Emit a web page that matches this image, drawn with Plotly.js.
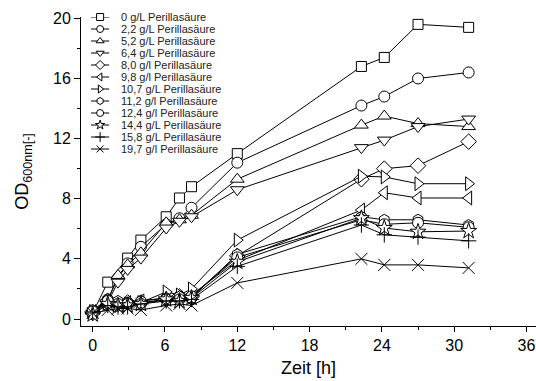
<!DOCTYPE html>
<html>
<head>
<meta charset="utf-8">
<script src="https://cdn.plot.ly/plotly-3.0.1.min.js"></script>
<style>html,body{margin:0;padding:0;background:#fff;}#chart{width:536px;height:381px;}</style>
</head>
<body>
<div id="chart"></div>
<script>
// Time points [h]
const time = [0, 1.25, 2.1, 2.9, 4.0, 6.1, 7.2, 8.2, 12, 22.3, 24.2, 27, 31.2];

// Legend labels
const labels = [
  "0 g/L Perillasäure", "2,2 g/L Perillasäure", "5,2 g/L Perillasäure",
  "6,4 g/L Perillasäure", "8,0 g/l Perillasäure", "9,8 g/l Perillasäure",
  "10,7 g/L Perillasäure", "11,2 g/l Perillasäure", "12,4 g/l Perillasäure",
  "14,4 g/L Perillasäure", "15,8 g/L Perillasäure", "19,7 g/l Perillasäure"
];

// OD600 values per series
const od_0_0  = [0.4, 2.45, null, 4.05, 5.25, 6.8, 8.05, 8.8, 11.0, 16.8, 17.4, 19.6, 19.4];
const od_2_2  = [0.5, 1.3, 2.7, 3.7, 4.8, 6.3, 6.7, 7.4, 10.4, 14.2, 14.8, 16.0, 16.4];
const od_5_2  = [0.5, 1.2, 2.9, 3.6, 4.4, 6.4, 6.6, 6.9, 9.3, 12.9, 13.5, 13.0, 12.8];
const od_6_4  = [0.4, 1.1, 2.45, 3.3, 4.05, 6.05, 6.5, 6.8, 8.6, 11.4, 11.9, 12.8, 13.3];
const od_8_0  = [0.4, 1.2, 1.0, 1.1, 1.1, 1.3, 1.5, 1.5, 4.2, 9.3, 10.0, 10.2, 11.8];
const od_9_8  = [0.5, 1.1, 1.0, 1.1, 1.2, 1.4, 1.4, 1.6, 3.9, 7.25, 8.4, 8.05, 8.05];
const od_10_7 = [0.5, 1.0, 0.9, 1.0, 1.1, 1.8, 1.6, 2.0, 5.25, 9.5, 9.45, 9.0, 9.0];
const od_11_2 = [0.6, 1.3, 1.2, 1.1, 1.2, 1.4, 1.5, 1.4, 4.3, 6.8, 6.6, 6.6, 6.25];
const od_12_4 = [0.5, 1.2, 1.0, 1.0, 1.0, 1.3, 1.3, 1.5, 4.1, 6.6, 6.3, 6.4, 6.1];
const od_14_4 = [0.3, 1.0, 0.9, 0.9, 1.0, 1.3, 1.2, 1.4, 3.8, 6.7, 6.05, 5.8, 5.85];
const od_15_8 = [0.4, 0.9, 0.8, 0.8, 1.0, 1.2, 1.2, 1.3, 3.5, 6.25, 5.6, 5.45, 5.2];
const od_19_7 = [0.4, 0.6, 0.7, 0.7, 0.6, 0.9, 1.0, 0.9, 2.4, 4.0, 3.6, 3.6, 3.4];

const series = [od_0_0, od_2_2, od_5_2, od_6_4, od_8_0, od_9_8, od_10_7, od_11_2, od_12_4, od_14_4, od_15_8, od_19_7];

const symbols = ["square", "circle", "triangle-up", "triangle-down", "diamond", "triangle-left",
  "triangle-right", "hexagon", "circle", "star", "cross-thin", "x-thin"];
const sizes = [10, 11, 12, 12, 12, 12, 12, 11, 11, 12, 11, 12];

const traces = [];
series.forEach((ys, i) => {
  traces.push({
    x: time, y: ys, type: "scatter", mode: "lines+markers",
    name: labels[i], connectgaps: true, cliponaxis: false, showlegend: false,
    line: {color: "#000", width: 1},
    marker: {symbol: symbols[i], size: sizes[i], color: "#fff",
             line: {color: "#000", width: 1}}
  });
});

// Hand-built compact legend on an overlay axis (0..1 over the plot area)
const lgX0 = 0.022, lgX1 = 0.062, lgXm = 0.042, lgTxt = 0.084;
const lgStep = 12 / 309;
const lgLineX = [], lgLineY = [], lgMX = [], lgMY = [];
labels.forEach((lab, i) => {
  const yy = 1 - i * lgStep;
  lgLineX.push(lgX0, lgX1, null); lgLineY.push(yy, yy, null);
  lgMX.push(lgXm); lgMY.push(yy);
});
traces.push({x: lgLineX, y: lgLineY, xaxis: "x2", yaxis: "y2", type: "scatter", mode: "lines",
  showlegend: false, hoverinfo: "skip", cliponaxis: false, line: {color: "#000", width: 1}});
traces.push({x: lgMX, y: lgMY, xaxis: "x2", yaxis: "y2", type: "scatter", mode: "markers",
  showlegend: false, hoverinfo: "skip", cliponaxis: false,
  marker: {symbol: symbols, size: 7, color: "#fff", line: {color: "#000", width: 1}}});

const annotations = labels.map((lab, i) => ({
  xref: "x2", yref: "y2", x: lgTxt, y: 1 - i * lgStep, text: lab, showarrow: false,
  xanchor: "left", yanchor: "middle", font: {family: "Liberation Sans, Arial, sans-serif", size: 11, color: "#222"}
}));

const fontFam = "Liberation Sans, Arial, sans-serif";
const layout = {
  width: 536, height: 381,
  margin: {l: 81, r: 0, t: 17, b: 55},
  paper_bgcolor: "#fff", plot_bgcolor: "#fff",
  showlegend: false,
  font: {family: fontFam, color: "#000", size: 16},
  xaxis: {
    range: [-0.97, 36.79], tickmode: "linear", tick0: 0, dtick: 6,
    ticks: "outside", ticklen: 5, tickwidth: 1, tickcolor: "#000",
    showline: true, linecolor: "#000", linewidth: 1, showgrid: false, zeroline: false,
    minor: {dtick: 3, tick0: 0, ticks: "outside", ticklen: 3, tickcolor: "#000", showgrid: false},
    tickfont: {family: fontFam, size: 16},
    title: {text: "Zeit [h]", font: {family: fontFam, size: 18}, standoff: 8}
  },
  yaxis: {
    range: [-0.466, 20.09], tickmode: "linear", tick0: 0, dtick: 4,
    ticks: "outside", ticklen: 6, tickwidth: 1, tickcolor: "#000",
    showline: true, linecolor: "#000", linewidth: 1, showgrid: false, zeroline: false,
    minor: {dtick: 2, tick0: 0, ticks: "outside", ticklen: 3, tickcolor: "#000", showgrid: false},
    tickfont: {family: fontFam, size: 16},
    title: {text: "OD<sub>600nm[-]</sub>", font: {family: fontFam, size: 18}, standoff: 19}
  },
  xaxis2: {overlaying: "x", range: [0, 1], visible: false, fixedrange: true},
  yaxis2: {overlaying: "y", range: [0, 1], visible: false, fixedrange: true},
  annotations: annotations
};

Plotly.newPlot("chart", traces, layout, {staticPlot: true, displayModeBar: false});
</script>
</body>
</html>
